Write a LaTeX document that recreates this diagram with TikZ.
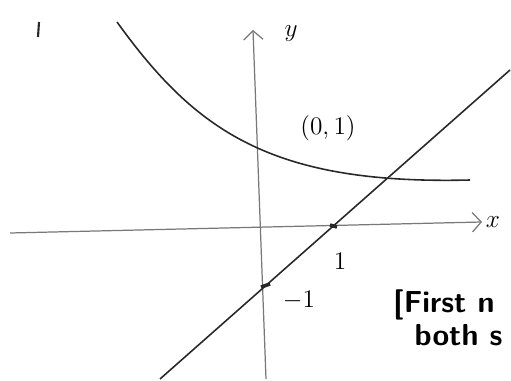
\documentclass[tikz,border=0pt]{standalone}
\usepackage{tikz}
\usetikzlibrary{arrows.meta,calc}
\definecolor{PencilDark}{RGB}{40, 40, 40}
\definecolor{PencilLight}{RGB}{120, 120, 120}

\begin{document}
\begin{tikzpicture}[x=0.02cm, y=-0.02cm, >={Straight Barb[length=5pt,width=11pt]},
    axisline/.style={draw=PencilLight, line width=0.7pt},
    sketchline/.style={draw=PencilDark, line width=0.9pt},
    handlabel/.style={font=\Large, text=black, inner sep=0pt}]
    \useasboundingbox (0,0) rectangle (511,381);
    \clip (0,0) rectangle (511,381);

    % Axes
    \coordinate (xstart) at (10,233);
    \coordinate (xend) at (482,222);
    \coordinate (ybot) at (266,379);
    \coordinate (ytop) at (253,30);
    \draw[axisline, ->] (xstart) -- (xend);
    \draw[axisline, ->] (ybot) -- (ytop);
    \node[handlabel, font=\Large\itshape, right=2pt] (xlab) at (xend) {$x$};
    \node[handlabel] (ylab) at (291,34) {$y$};

    % Curve and line
    \coordinate (cstart) at (117,22);
    \coordinate (cend) at (470,180);
    \draw[sketchline] (cstart) .. controls (195,130) and (270,185) .. (cend);
    \coordinate (lbot) at (160,379);
    \coordinate (ltop) at (510,70);
    \draw[sketchline] (lbot) -- (ltop);

    % Marks on the axes
    \coordinate (xone) at (333,226);
    \coordinate (yminus) at (266,286);
    \draw[sketchline, line width=2pt] ($(xone)+(-3,-1)$) -- ($(xone)+(4,1)$);
    \draw[sketchline, line width=2pt] ($(yminus)+(-5,1)$) -- ($(yminus)+(4,-2)$);

    % Labels
    \node[handlabel] (pt01) at (328,128) {$(0,1)$};
    \node[handlabel] (one) at (340,261) {$1$};
    \node[handlabel] (minusone) at (299,300) {$-1$};
    \draw[sketchline, line width=1.2pt] (39,22) -- (38,37);

    % Note
    \node[handlabel, font=\LARGE\sffamily\bfseries, anchor=north west, align=left] (note) at (393,289) {[First n\\[-3pt]\hspace*{0.7em}both s};
\end{tikzpicture}
\end{document}
